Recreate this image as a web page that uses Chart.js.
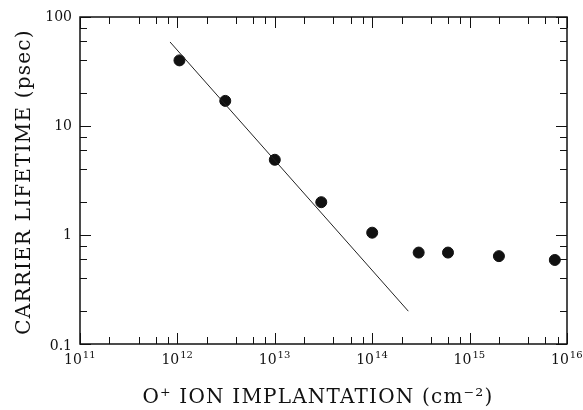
<!DOCTYPE html>
<html>
<head>
<meta charset="utf-8">
<script src="https://cdn.jsdelivr.net/npm/chart.js@4.4.0/dist/chart.umd.min.js"></script>
<style>
  html, body { margin: 0; padding: 0; background: #fff; }
  #wrap { width: 583px; height: 410px; }
</style>
</head>
<body>
<div id="wrap"><canvas id="chart" width="583" height="410"></canvas></div>
<script>
// measured points (dose in cm^-2, lifetime in psec)
const doseValues = [1.05e12, 3.1e12, 1.0e13, 3.0e13, 1.0e14, 3.0e14, 6.0e14, 2.0e15, 7.5e15];
const lifetimeValues = [40, 17, 4.9, 2.0, 1.05, 0.69, 0.69, 0.64, 0.59];

// straight fit line, end points
const fitDose = [8.4e11, 2.35e14];
const fitLifetime = [59, 0.2];

// axis ticks
const xExponents = [11, 12, 13, 14, 15, 16];
const yTickValues = [0.1, 1, 10, 100];
const yTickLabels = ['0.1', '1', '10', '100'];
const minorSteps = [2, 4, 6, 8];

const FONT = '"DejaVu Serif", serif';
const INK = '#111';

const toPoints = (xs, ys) => xs.map((v, i) => ({ x: v, y: ys[i] }));

// frame, inward ticks on all four sides, labels and titles
const frameAndTicks = {
    id: 'frameAndTicks',
    afterDatasetsDraw(chart) {
        const { ctx, chartArea: a, scales: { x, y } } = chart;
        ctx.save();
        ctx.strokeStyle = INK;
        ctx.fillStyle = INK;
        ctx.lineWidth = 1.5;
        ctx.strokeRect(a.left, a.top, a.right - a.left, a.bottom - a.top);

        ctx.lineWidth = 1;
        ctx.beginPath();
        xExponents.forEach(e => {
            const base = Math.pow(10, e);
            [1, ...minorSteps].forEach(m => {
                const v = base * m;
                if (v > x.max) return;
                const px = Math.round(x.getPixelForValue(v)) + 0.5;
                const len = m === 1 ? 11 : 7;
                ctx.moveTo(px, a.bottom); ctx.lineTo(px, a.bottom - len);
                ctx.moveTo(px, a.top); ctx.lineTo(px, a.top + len);
            });
        });
        yTickValues.forEach(base => {
            [1, ...minorSteps].forEach(m => {
                const v = base * m;
                if (v > y.max) return;
                const py = Math.round(y.getPixelForValue(v)) + 0.5;
                const len = m === 1 ? 11 : 7;
                ctx.moveTo(a.left, py); ctx.lineTo(a.left + len, py);
                ctx.moveTo(a.right, py); ctx.lineTo(a.right - len, py);
            });
        });
        ctx.stroke();

        // y tick labels
        ctx.font = '14px ' + FONT;
        ctx.textAlign = 'right';
        ctx.textBaseline = 'middle';
        yTickValues.forEach((v, i) => {
            const py = y.getPixelForValue(v);
            ctx.fillText(yTickLabels[i], a.left - 8, i === 0 ? py + 2 : py);
        });

        // x tick labels: 10 with raised exponent
        ctx.textBaseline = 'alphabetic';
        ctx.textAlign = 'left';
        xExponents.forEach(e => {
            const px = x.getPixelForValue(Math.pow(10, e));
            ctx.font = '14px ' + FONT;
            const wBase = ctx.measureText('10').width;
            const left = px - 16;
            ctx.fillText('10', left, 364);
            ctx.font = '10px ' + FONT;
            ctx.fillText(String(e), left + wBase + 1, 358);
        });

        // axis titles
        ctx.font = '20px ' + FONT;
        ctx.letterSpacing = '1.2px';
        ctx.textAlign = 'center';
        ctx.fillText('O\u207A ION IMPLANTATION (cm\u207B\u00B2)', 318, 403);
        ctx.save();
        ctx.translate(30, 182);
        ctx.rotate(-Math.PI / 2);
        ctx.fillText('CARRIER LIFETIME (psec)', 0, 0);
        ctx.restore();
        ctx.letterSpacing = '0px';
        ctx.restore();
    }
};

new Chart(document.getElementById('chart'), {
    type: 'scatter',
    data: {
        datasets: [
            {
                label: 'fit',
                data: toPoints(fitDose, fitLifetime),
                showLine: true,
                borderColor: '#222',
                borderWidth: 1,
                pointRadius: 0,
                fill: false
            },
            {
                label: 'lifetime',
                data: toPoints(doseValues, lifetimeValues),
                backgroundColor: INK,
                borderColor: INK,
                pointRadius: 5.5,
                pointHoverRadius: 5.5
            }
        ]
    },
    options: {
        responsive: false,
        animation: false,
        layout: { padding: { left: 80, right: 16, top: 17, bottom: 66 } },
        plugins: { legend: { display: false }, tooltip: { enabled: false } },
        scales: {
            x: {
                type: 'logarithmic', min: 1e11, max: 1e16,
                grid: { display: false }, border: { display: false },
                ticks: { display: false },
                afterFit: s => { s.height = 0; s.paddingLeft = 0; s.paddingRight = 0; }
            },
            y: {
                type: 'logarithmic', min: 0.1, max: 100,
                grid: { display: false }, border: { display: false },
                ticks: { display: false },
                afterFit: s => { s.width = 0; s.paddingTop = 0; s.paddingBottom = 0; }
            }
        }
    },
    plugins: [frameAndTicks]
});
</script>
</body>
</html>
